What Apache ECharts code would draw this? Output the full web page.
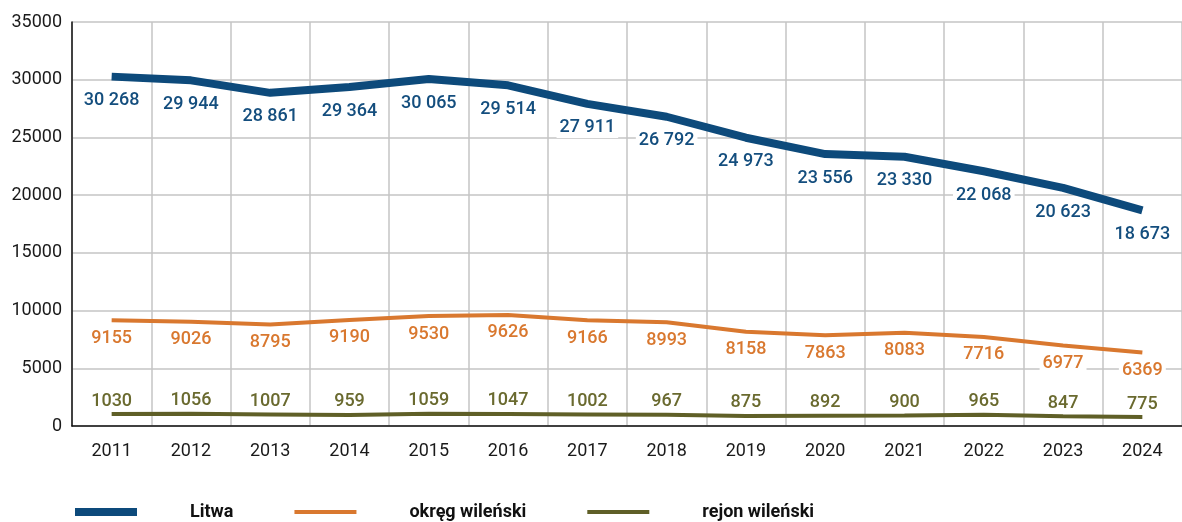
<!DOCTYPE html>
<html>
<head>
<meta charset="utf-8">
<script src="https://cdn.jsdelivr.net/npm/echarts@6/dist/echarts.min.js"></script>
<style>
  html, body { margin: 0; padding: 0; background: #fff; }
  #chart { width: 1182px; height: 522px; }
</style>
</head>
<body>
<div id="chart"></div>
<script>
var years = ['2011', '2012', '2013', '2014', '2015', '2016', '2017', '2018', '2019', '2020', '2021', '2022', '2023', '2024'];
var litwa = [30268, 29944, 28861, 29364, 30065, 29514, 27911, 26792, 24973, 23556, 23330, 22068, 20623, 18673];
var okreg = [9155, 9026, 8795, 9190, 9530, 9626, 9166, 8993, 8158, 7863, 8083, 7716, 6977, 6369];
var rejon = [1030, 1056, 1007, 959, 1059, 1047, 1002, 967, 875, 892, 900, 965, 847, 775];

var chart = echarts.init(document.getElementById('chart'));

// liczby z odstepem tysiecy: 30 268
function spaced(p) {
    return String(p.value).replace(/\B(?=(\d{3})+(?!\d))/g, ' ');
}

var labelBase = {
    show: true,
    fontFamily: 'Roboto',
    fontSize: 18,
    fontWeight: 500,
    backgroundColor: '#fff',
    padding: [1, 3]
};

var thick = 'path://M0,0H62V8H0Z';
var thin = 'path://M0,0H62V4H0Z';

var option = {
    animation: false,
    textStyle: { fontFamily: 'Roboto' },
    grid: { left: 72, top: 22, width: 1118, height: 404 },
    legend: {
        left: 70,
        top: 498,
        itemWidth: 62,
        itemHeight: 8,
        itemGap: 61,
        symbolKeepAspect: true,
        textStyle: {
            fontFamily: 'Roboto',
            fontSize: 18,
            fontWeight: 'bold',
            color: '#111',
            padding: [0, 0, 0, 48]
        },
        data: [
            { name: 'Litwa', icon: thick },
            { name: 'okręg wileński', icon: thin },
            { name: 'rejon wileński', icon: thin }
        ]
    },
    xAxis: {
        type: 'category',
        data: years,
        boundaryGap: true,
        axisLine: { lineStyle: { color: '#111', width: 1.5 } },
        axisTick: { show: false },
        axisLabel: { color: '#1a1a1a', fontSize: 18, margin: 16, interval: 0 },
        splitLine: { show: true, interval: 0, lineStyle: { color: '#c4c4c4', width: 1.5 } }
    },
    yAxis: {
        type: 'value',
        min: 0,
        max: 35000,
        interval: 5000,
        axisLine: { show: true, lineStyle: { color: '#111', width: 1.5 } },
        axisTick: { show: false },
        axisLabel: { color: '#1a1a1a', fontSize: 18, margin: 10, formatter: function (v) { return String(v); } },
        splitLine: { lineStyle: { color: '#c4c4c4', width: 1.5 } }
    },
    series: [
        {
            name: 'Litwa',
            type: 'line',
            data: litwa,
            symbol: 'circle',
            symbolSize: 0.1,
            showSymbol: true,
            color: '#0d4a7b',
            lineStyle: { width: 8, color: '#0d4a7b' },
            label: Object.assign({}, labelBase, { position: 'bottom', distance: 14, color: '#144e7e', formatter: spaced }),
            z: 3
        },
        {
            name: 'okręg wileński',
            type: 'line',
            data: okreg,
            symbol: 'circle',
            symbolSize: 0.1,
            showSymbol: true,
            color: '#d9782f',
            lineStyle: { width: 4, color: '#d9782f' },
            label: Object.assign({}, labelBase, { position: 'bottom', distance: 8, color: '#d9782f' }),
            z: 2
        },
        {
            name: 'rejon wileński',
            type: 'line',
            data: rejon,
            symbol: 'circle',
            symbolSize: 0.1,
            showSymbol: true,
            color: '#5f5f27',
            lineStyle: { width: 4, color: '#5f5f27' },
            label: Object.assign({}, labelBase, { position: 'top', distance: 3, color: '#6a6a2f' }),
            z: 2
        }
    ]
};

chart.setOption(option);
</script>
</body>
</html>
